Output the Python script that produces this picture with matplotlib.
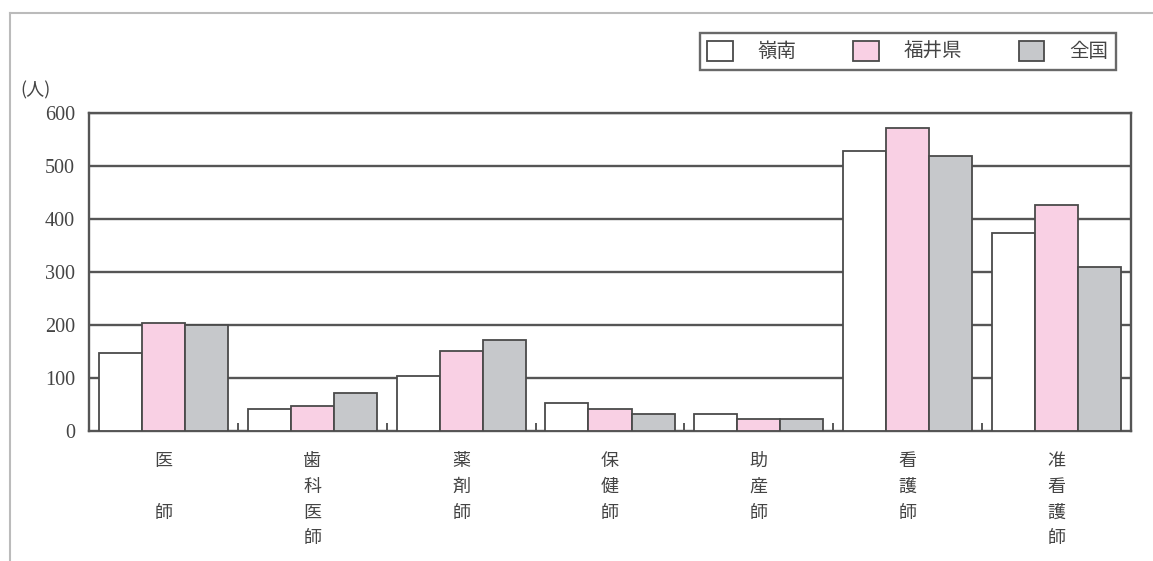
import matplotlib.pyplot as plt
import matplotlib.lines as mlines
import matplotlib.patches as mpatches
import numpy as np

plt.rcParams['font.family'] = ['Noto Sans CJK JP', 'DejaVu Sans']

# categories (vertical labels)
jobs = ['医\n\n師', '歯\n科\n医\n師', '薬\n剤\n師', '保\n健\n師', '助\n産\n師', '看\n護\n師', '准\n看\n護\n師']
series = ['嶺南', '福井県', '全国']

# values (人)
reinan = [147, 42, 103, 53, 32, 529, 374]
fukui = [204, 47, 151, 41, 23, 572, 426]
zenkoku = [200, 72, 172, 32, 22, 519, 310]

y_ticks = [0, 100, 200, 300, 400, 500, 600]

colors = ['white', '#f9d0e4', '#c6c8cb']
edge = '#4a4a4a'

fig = plt.figure(figsize=(11.53, 5.61), dpi=100)
ax = fig.add_axes([89/1153, 1-431/561, (1131-89)/1153, (431-113)/561])

x = np.arange(len(jobs))
w = 0.289
for k, vals in enumerate([reinan, fukui, zenkoku]):
    ax.bar(x + (k-1)*w, vals, w, color=colors[k], edgecolor=edge, linewidth=1.3, zorder=3)

# grid lines behind bars
for yv in y_ticks[1:]:
    ax.axhline(yv, color='#555555', linewidth=1.7, zorder=1)

ax.set_xlim(-0.5, len(jobs)-0.5)
ax.set_ylim(0, 600)
ax.set_yticks(y_ticks)
ax.set_yticklabels([str(v) for v in y_ticks], fontsize=14.5, color='#444444', family='Liberation Serif')
ax.tick_params(axis='y', length=0, pad=10)

# small marks between groups
ax.set_xticks(x[:-1] + 0.5)
ax.set_xticklabels([])
ax.tick_params(axis='x', direction='in', length=6, width=1.3, color=edge)

for s in ax.spines.values():
    s.set_color('#555555')
    s.set_linewidth(1.7)

for i, lab in enumerate(jobs):
    ax.text(i, -40, lab, ha='center', va='top', fontsize=13, color='#444444',
            linespacing=1.55)

fig.text(20/1153, 1-90/561, '(人)', fontsize=13, color='#444444', va='center')

handles = [mpatches.Patch(facecolor=colors[k], edgecolor=edge, linewidth=1.3) for k in range(3)]
leg = fig.legend(handles, series, loc='upper right', bbox_to_anchor=(1116/1153, 1-33/561),
                 ncol=3, fontsize=14, frameon=True, fancybox=False, edgecolor='#444444',
                 handlelength=1.3, handleheight=1.2, columnspacing=2.9, handletextpad=1.3,
                 borderpad=0.4, borderaxespad=0, labelcolor='#444444')
leg.get_frame().set_linewidth(1.7)

# outer frame of the scanned page
fig.add_artist(mlines.Line2D([10/1153, 1], [1-13/561, 1-13/561], color='#bbbbbb', linewidth=1.5))
fig.add_artist(mlines.Line2D([10/1153, 10/1153], [0, 1-13/561], color='#bbbbbb', linewidth=1.5))

fig.savefig('out.png', dpi=100)
